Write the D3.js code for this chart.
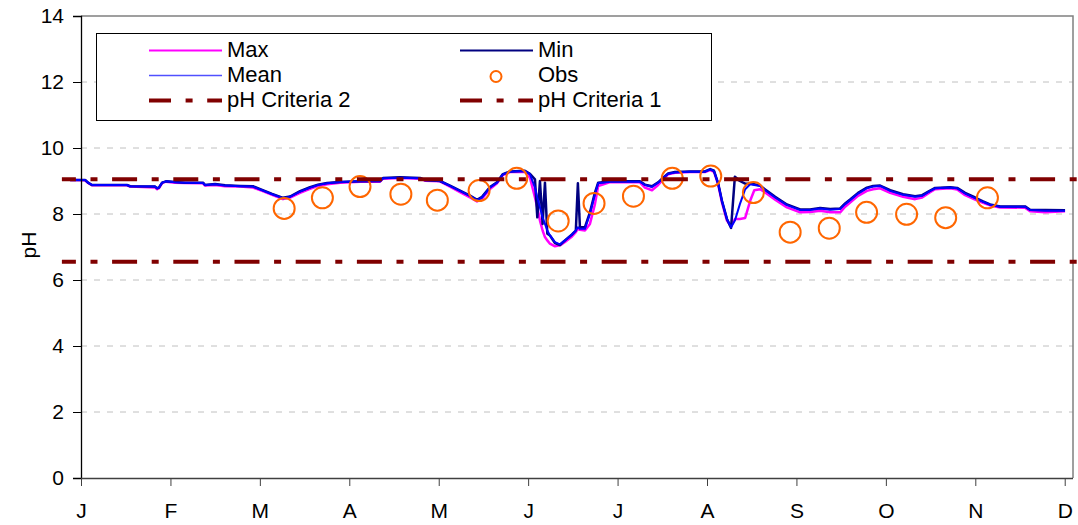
<!DOCTYPE html>
<html><head><meta charset="utf-8">
<script src="https://cdn.jsdelivr.net/npm/d3@7"></script>
<style>
html,body{margin:0;padding:0;background:#fff;}
svg{display:block;font-family:"Liberation Sans",Arial,sans-serif;}
</style></head>
<body><svg id="chart" width="1078" height="525"></svg>
<script>
// ---- data ----
const monthLabels = ["J","F","M","A","M","J","J","A","S","O","N","D"];
const monthTickDays = [0,30.42,60.83,91.25,121.67,152.08,182.5,212.92,243.33,273.75,304.17,334.58];
const yTicks = [0,2,4,6,8,10,12,14];

// day-of-year positions of the continuous record
const days = [-3.7,1.4,2.4,3.7,15.6,16.7,25.2,25.9,26.5,27.6,28.9,32.0,35.4,41.5,42.2,45.6,49.0,54.1,58.5,61.6,
 65.0,68.7,71.1,74.5,77.9,80.6,83.7,88.1,94.9,101.7,102.7,108.5,115.3,117.0,122.1,125.5,128.9,132.3,134.7,136.4,
 139.1,141.5,143.5,145.9,151.0,152.7,154.4,155.2,156.1,157.0,157.8,158.6,159.5,161.2,162.9,164.6,167.0,168.3,169.0,169.7,
 171.4,173.1,174.8,175.9,180.0,190.1,191.8,194.2,196.3,198.0,199.7,202.0,207.1,212.2,214.0,215.3,216.7,218.0,219.7,221.1,
 222.4,224.1,225.9,227.6,229.0,231.0,232.7,236.1,240.1,244.6,248.0,251.4,254.8,258.2,259.9,261.6,264.3,267.3,269.4,271.8,
 275.2,279.6,283.7,286.1,288.8,290.5,295.6,298.0,300.7,304.1,306.8,309.2,312.6,321.1,322.8,328.0,334.7];

const meanPH = [9.03,9.03,8.95,8.88,8.88,8.84,8.83,8.78,8.80,8.95,8.99,8.96,8.95,8.94,8.88,8.90,8.86,8.84,8.83,8.72,
 8.60,8.48,8.52,8.68,8.80,8.88,8.93,8.97,8.99,8.99,9.08,9.10,9.08,9.02,9.00,8.85,8.70,8.55,8.42,8.50,
 8.80,8.95,9.20,9.28,9.30,9.20,8.80,8.50,8.20,7.90,7.70,7.50,7.35,7.15,7.08,7.20,7.38,7.50,7.60,7.55,
 7.55,8.00,8.60,8.93,8.98,8.98,8.88,8.82,8.95,9.09,9.22,9.26,9.28,9.28,9.35,9.30,8.93,8.40,7.85,7.60,
 7.80,8.30,8.75,8.90,8.88,8.85,8.72,8.50,8.27,8.12,8.12,8.17,8.13,8.15,8.30,8.42,8.62,8.78,8.83,8.85,
 8.70,8.58,8.52,8.55,8.70,8.78,8.80,8.78,8.62,8.48,8.37,8.28,8.22,8.22,8.12,8.10,8.10];

const maxPH = [9.03,9.02,8.94,8.87,8.87,8.83,8.80,8.75,8.78,8.94,8.98,8.95,8.94,8.93,8.86,8.88,8.84,8.83,8.80,8.70,
 8.58,8.45,8.50,8.64,8.76,8.85,8.90,8.95,8.98,8.98,9.07,9.09,9.07,9.01,8.99,8.83,8.66,8.50,8.38,8.46,
 8.76,8.93,9.18,9.27,9.28,9.10,8.50,8.20,7.80,7.50,7.30,7.20,7.10,7.02,7.05,7.15,7.32,7.45,7.55,7.52,
 7.50,7.70,8.30,8.85,8.97,8.96,8.80,8.72,8.88,9.05,9.20,9.25,9.27,9.27,9.33,9.28,8.90,8.35,7.80,7.62,
 7.85,7.85,7.88,8.40,8.72,8.75,8.65,8.43,8.20,8.05,8.06,8.10,8.05,8.05,8.22,8.35,8.55,8.70,8.75,8.78,
 8.64,8.52,8.45,8.50,8.66,8.75,8.78,8.74,8.57,8.44,8.34,8.26,8.20,8.19,8.08,8.05,8.08];

const minPH = [9.03,9.03,8.95,8.88,8.88,8.84,8.83,8.78,8.80,8.95,8.99,8.97,8.95,8.95,8.88,8.91,8.87,8.85,8.84,8.73,
 8.61,8.49,8.53,8.69,8.81,8.89,8.94,8.97,8.99,9.00,9.09,9.11,9.09,9.03,9.00,8.86,8.71,8.56,8.43,8.52,
 8.82,8.96,9.21,9.29,9.31,9.22,9.05,7.90,9.00,7.70,8.95,7.40,7.35,7.12,7.06,7.20,7.38,7.50,8.93,7.60,
 7.60,8.05,8.65,8.95,8.99,8.99,8.89,8.84,8.96,9.10,9.23,9.27,9.29,9.29,9.36,9.31,8.93,8.40,7.85,7.58,
 9.13,9.00,8.92,8.92,8.90,8.86,8.74,8.52,8.29,8.14,8.14,8.18,8.15,8.17,8.32,8.44,8.64,8.80,8.85,8.86,
 8.72,8.60,8.54,8.57,8.71,8.79,8.81,8.79,8.64,8.50,8.38,8.29,8.23,8.23,8.13,8.12,8.11];

const obsDays = [69.1,82.1,94.9,108.8,121.2,135.4,148.2,162.3,174.5,187.9,201.1,214.2,228.7,241.2,254.5,267.2,280.8,294.1,308.3];
const obsPH   = [8.17,8.49,8.83,8.60,8.42,8.71,9.08,7.79,8.32,8.54,9.08,9.15,8.65,7.45,7.57,8.05,7.99,7.89,8.49];

const criteriaDays = [-6.5, 340];
const criteria2 = [9.05, 9.05];
const criteria1 = [6.55, 6.55];

// ---- layout ----
const svg = d3.select("#chart");
const L = 81, R = 1073, T = 16, B = 478;
const x = d3.scaleLinear().domain([0, 337.4]).range([L, R]);
const y = d3.scaleLinear().domain([0, 14]).range([B, T]);
const FONT = '"Liberation Sans",Arial,sans-serif';

// gridlines
svg.append("g").selectAll("line").data(yTicks.filter(v => v > 0 && v < 14)).join("line")
  .attr("x1", L).attr("x2", R).attr("y1", d => y(d)).attr("y2", d => y(d))
  .attr("stroke", "#c0c0c0").attr("stroke-width", 1).attr("stroke-dasharray", "6,7");

// frame top/right
svg.append("path").attr("d", `M${L},${T}H${R}V${B}`).attr("fill", "none")
  .attr("stroke", "#808080").attr("stroke-width", 1.5);

// series lines
const lineGen = vals => d3.line().x((d, i) => x(days[i])).y(d => y(d))(vals);
svg.append("path").attr("d", lineGen(maxPH)).attr("fill", "none").attr("stroke", "#ff00ff").attr("stroke-width", 2.5).attr("stroke-linejoin", "round");
svg.append("path").attr("d", lineGen(minPH)).attr("fill", "none").attr("stroke", "#000080").attr("stroke-width", 2.5).attr("stroke-linejoin", "round");
svg.append("path").attr("d", lineGen(meanPH)).attr("fill", "none").attr("stroke", "#0000ff").attr("stroke-width", 2).attr("stroke-linejoin", "round");

// observations
svg.append("g").selectAll("circle").data(obsDays).join("circle")
  .attr("cx", d => x(d)).attr("cy", (d, i) => y(obsPH[i])).attr("r", 10.5)
  .attr("fill", "none").attr("stroke", "#ff6600").attr("stroke-width", 2);

// criteria
const critLine = vals => d3.line().x((d, i) => x(criteriaDays[i])).y(d => y(d))(vals);
[criteria2, criteria1].forEach(c => {
  svg.append("path").attr("d", critLine(c)).attr("fill", "none")
    .attr("stroke", "#800000").attr("stroke-width", 4)
    .attr("stroke-dasharray", "25,14.6,7,14.6").attr("stroke-dashoffset", 11);
});

// axes
const yAxis = svg.append("g").attr("transform", `translate(${L},0)`)
  .call(d3.axisLeft(y).tickValues(yTicks).tickSize(8).tickPadding(9).tickFormat(d3.format("d")));
yAxis.select(".domain").attr("stroke", "#000").attr("stroke-width", 1.3);
yAxis.selectAll(".tick line").attr("stroke", "#000");
yAxis.selectAll("text").attr("font-size", 21).attr("font-family", FONT).attr("fill", "#000");

const xAxis = svg.append("g").attr("transform", `translate(0,${B})`)
  .call(d3.axisBottom(x).tickValues(monthTickDays).tickSize(8).tickPadding(17)
    .tickFormat((d, i) => monthLabels[i]));
xAxis.select(".domain").attr("stroke", "#404040").attr("stroke-width", 1.5).attr("d", `M${L},0.5H${R}`);
xAxis.selectAll(".tick line").attr("stroke", "#404040");
xAxis.selectAll("text").attr("font-size", 21).attr("font-family", FONT).attr("fill", "#000");

// y label
svg.append("text").attr("transform", "translate(36,245) rotate(-90)")
  .attr("text-anchor", "middle").attr("font-size", 21).attr("font-family", FONT).text("pH");

// legend
const leg = svg.append("g");
leg.append("rect").attr("x", 96.5).attr("y", 33.5).attr("width", 615).attr("height", 87)
  .attr("fill", "#fff").attr("stroke", "#000").attr("stroke-width", 1);
const legItems = [
  {label: "Max", col: 0, row: 0, type: "line", color: "#ff00ff", w: 2},
  {label: "Min", col: 1, row: 0, type: "line", color: "#000080", w: 2},
  {label: "Mean", col: 0, row: 1, type: "line", color: "#5050ff", w: 1.5},
  {label: "Obs", col: 1, row: 1, type: "circle", color: "#ff6600"},
  {label: "pH Criteria 2", col: 0, row: 2, type: "crit", color: "#800000"},
  {label: "pH Criteria 1", col: 1, row: 2, type: "crit", color: "#800000"}
];
const colX = [149, 460], rowY = [50.5, 75.5, 100.5];
legItems.forEach(it => {
  const x0 = colX[it.col], yy = rowY[it.row];
  if (it.type === "line") {
    leg.append("line").attr("x1", x0).attr("x2", x0 + 73).attr("y1", yy).attr("y2", yy)
      .attr("stroke", it.color).attr("stroke-width", it.w);
  } else if (it.type === "circle") {
    leg.append("circle").attr("cx", x0 + 36).attr("cy", yy + 1).attr("r", 5.5)
      .attr("fill", "none").attr("stroke", it.color).attr("stroke-width", 2);
  } else {
    leg.append("line").attr("x1", x0).attr("x2", x0 + 73).attr("y1", yy).attr("y2", yy)
      .attr("stroke", it.color).attr("stroke-width", 4)
      .attr("stroke-dasharray", "25,14.6,7,14.6").attr("stroke-dashoffset", 3);
  }
  leg.append("text").attr("x", x0 + 78).attr("y", yy + 6).attr("font-size", 22)
    .attr("font-family", FONT).attr("fill", "#000").text(it.label);
});
</script></body></html>
